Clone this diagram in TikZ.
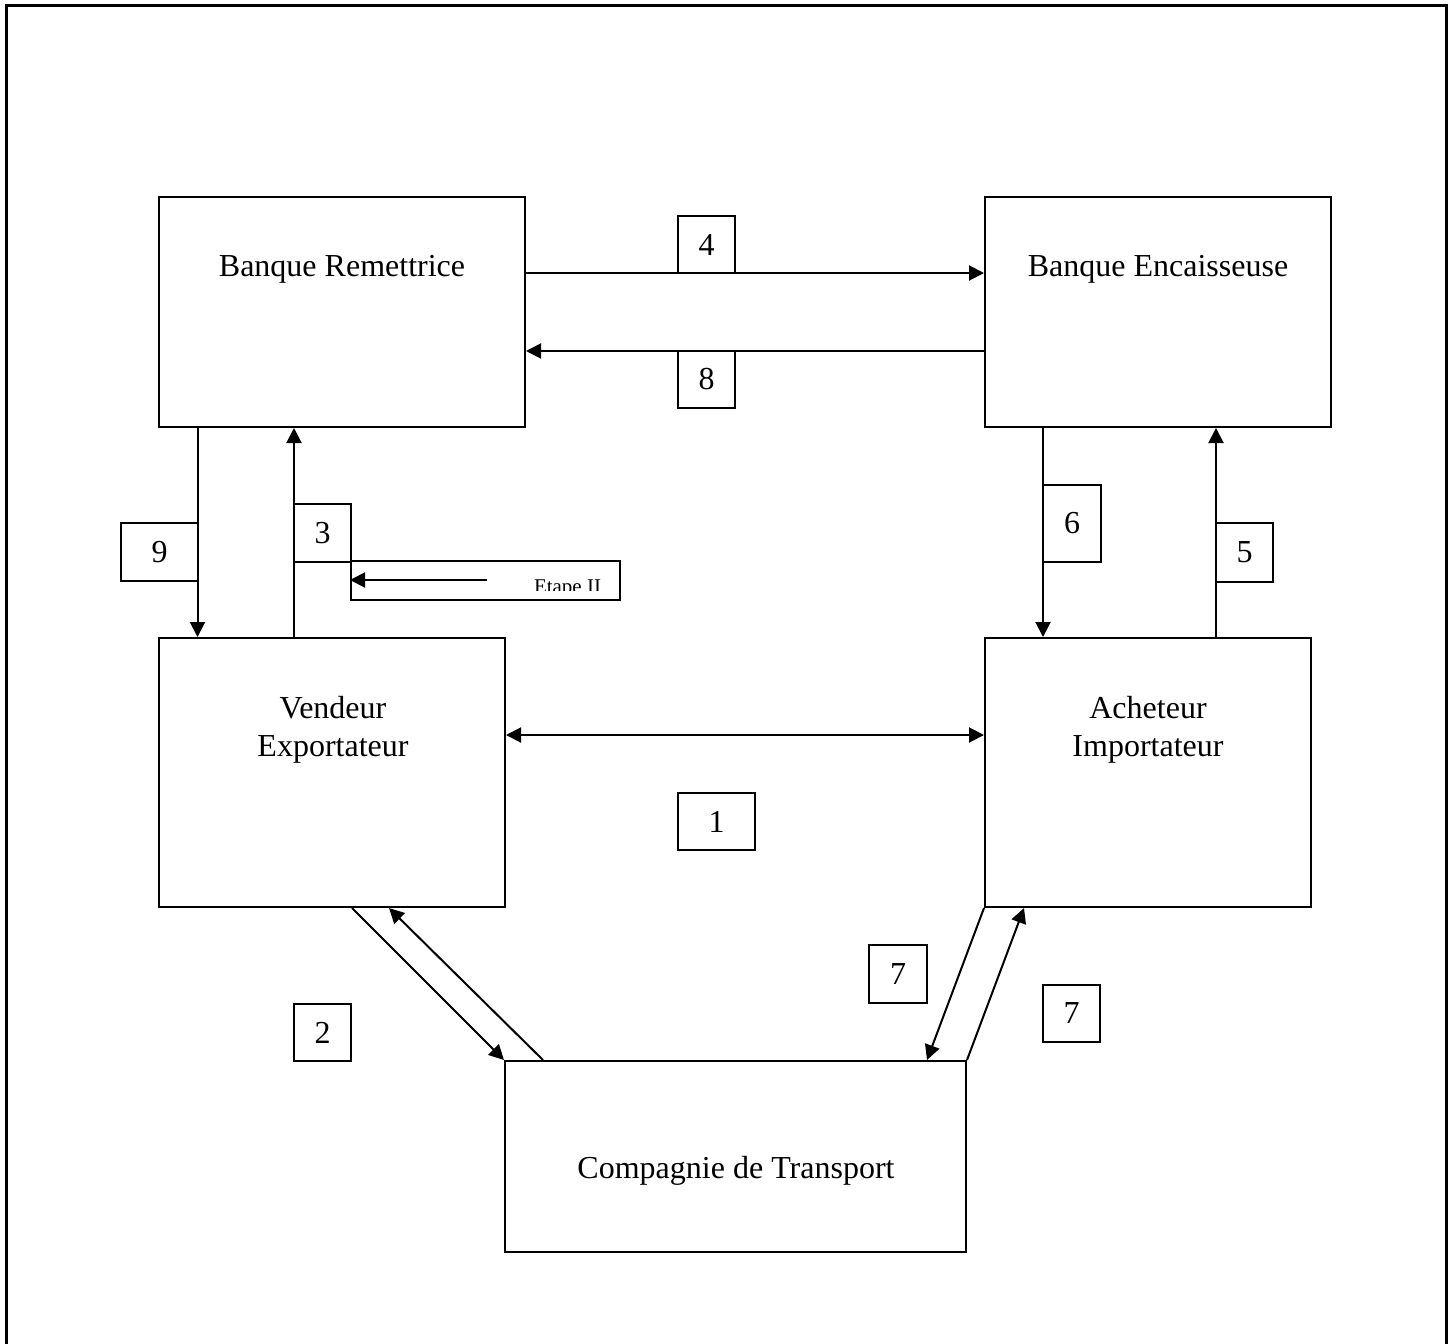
\documentclass[tikz,border=0pt]{standalone}
\usepackage{fontspec}
\setmainfont{Liberation Serif}
\usetikzlibrary{arrows.meta}
\begin{document}
\begin{tikzpicture}[x=0.5pt,y=-0.5pt,
  line width=1pt,
  bigbox/.style={draw, rectangle, inner sep=0pt},
  numbox/.style={draw, rectangle, inner sep=0pt, font=\fontsize{16}{19}\selectfont},
  lbl/.style={inner sep=0pt, align=center, font=\fontsize{16}{19}\selectfont},
  arr/.style={-{Triangle[length=7.5pt,width=7.5pt]}},
  dblarr/.style={{Triangle[length=7.5pt,width=7.5pt]}-{Triangle[length=7.5pt,width=7.5pt]}}]

\useasboundingbox (0,0) rectangle (1452,1344);

% outer frame (open at the bottom)
\draw[line width=1.5pt] (6,1350) -- (6,5) -- (1446,5) -- (1446,1350);

% main parties
\node[bigbox, minimum width=183pt, minimum height=115pt] (br) at (342,312) {};
\node[bigbox, minimum width=173pt, minimum height=115pt] (be) at (1158,312) {};
\node[bigbox, minimum width=173pt, minimum height=134.5pt] (vb) at (332,772.5) {};
\node[bigbox, minimum width=163pt, minimum height=134.5pt] (ai) at (1148,772.5) {};
\node[bigbox, minimum width=230.5pt, minimum height=95.5pt] (ct) at (735.5,1156.5) {};

\node[lbl] (brt) at (342,269) {Banque Remettrice};
\node[lbl] (bet) at (1158,269) {Banque Encaisseuse};
\node[lbl] (vbt) at (333,730) {Vendeur\\Exportateur};
\node[lbl] (ait) at (1148,730) {Acheteur\\Importateur};
\node[lbl] (ctt) at (736,1171) {Compagnie de Transport};

% step numbers
\node[numbox, minimum width=28.5pt, minimum height=28.5pt] (n4) at (706.5,244.5) {4};
\node[numbox, minimum width=28.5pt, minimum height=28.5pt] (n8) at (706.5,379.5) {8};
\node[numbox, minimum width=38.5pt, minimum height=29pt] (n9) at (159.5,552) {9};
\node[numbox, minimum width=28.5pt, minimum height=29pt] (n3) at (322.5,533) {3};
\node[numbox, minimum width=29pt, minimum height=38.5pt] (n6) at (1072,523.5) {6};
\node[numbox, minimum width=28.5pt, minimum height=29.5pt] (n5) at (1244.5,552.5) {5};
\node[numbox, minimum width=38.5pt, minimum height=28.5pt] (n1) at (716.5,821.5) {1};
\node[numbox, minimum width=28.5pt, minimum height=28.5pt] (n2) at (322.5,1032.5) {2};
\node[numbox, minimum width=29pt, minimum height=29pt] (n7a) at (898,974) {7};
\node[numbox, minimum width=28.5pt, minimum height=28.5pt] (n7b) at (1071.5,1013.5) {7};

% stage marker
\node[bigbox, minimum width=134.5pt, minimum height=19.5pt] (et) at (485.5,580.5) {};
\begin{scope}
  \clip (351,561) rectangle (620,590);
  \node[anchor=base west, inner sep=0pt, font=\fontsize{10.5}{12}\selectfont] (ett) at (533,593) {Etape II};
\end{scope}
\coordinate (etstart) at (487,580);
\draw[arr] (etstart) -- (et.west |- etstart);

% flows between the banks
\draw[arr] (br.east |- 0,273) -- (be.west |- 0,273);
\draw[arr] (be.west |- 0,351) -- (br.east |- 0,351);

% flows between banks and clients
\draw[arr] (br.south -| 197.5,0) -- (vb.north -| 197.5,0);
\draw[arr] (vb.north -| 294,0) -- (br.south -| 294,0);
\draw[arr] (be.south -| 1043,0) -- (ai.north -| 1043,0);
\draw[arr] (ai.north -| 1216,0) -- (be.south -| 1216,0);

% contract between seller and buyer
\draw[dblarr] (vb.east |- 0,735) -- (ai.west |- 0,735);

% transport flows
\draw[arr] (vb.south -| 352,0) -- (ct.north west);
\draw[arr] (ct.north -| 543,0) -- (vb.south -| 389,0);
\draw[arr] (ai.south west) -- (ct.north -| 927,0);
\draw[arr] (ct.north east) -- (ai.south -| 1024,0);

\end{tikzpicture}
\end{document}
